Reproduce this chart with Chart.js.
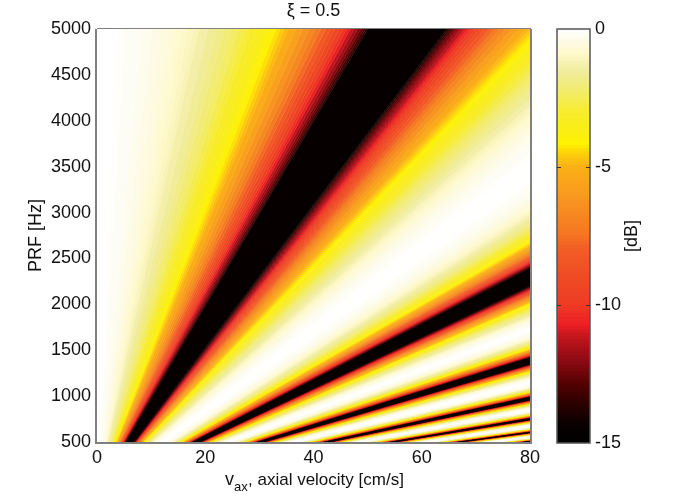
<!DOCTYPE html>
<html>
<head>
<meta charset="utf-8">
<script src="https://cdn.jsdelivr.net/npm/chart.js@4/dist/chart.umd.min.js"></script>
<style>
  html, body { margin: 0; padding: 0; background: #fff; }
  #wrap { position: relative; width: 673px; height: 499px; overflow: hidden; filter: blur(0.4px); }
  canvas { position: absolute; left: 0; top: 0; }
</style>
</head>
<body>
<div id="wrap">
  <canvas id="mapChart" width="673" height="499"></canvas>
  <canvas id="barChart" width="673" height="499"></canvas>
</div>
<script>
const FONT = '"Liberation Sans", Arial, sans-serif';

// axes
const prfTicks = [500, 1000, 1500, 2000, 2500, 3000, 3500, 4000, 4500, 5000];
const velTicks = [0, 20, 40, 60, 80];
const dbTicks = [0, -5, -10, -15];

// the fan of lobes.
// every contour is a straight ray v = slope * (PRF - rayStartPrf) / 1000
const rayStartPrf = -28;
// slope (cm/s per kHz) of the middle of each black null
const nullSlopes = [11.4, 34.4, 56.5, 79.4, 102, 125, 147.5];
// dB contours and how far each sits from the null centre (cm/s per kHz)
const contourLevels = [-0.05, -0.1, -0.25, -0.375, -0.5, -0.625, -0.75, -0.875, -1, -1.125, -1.25, -1.5, -1.75,
  -2, -2.25, -2.5, -2.75, -3, -3.25, -3.5, -3.75, -4, -4.25, -4.5, -4.75, -5, -5.5, -6, -6.5,
  -7, -7.5, -8, -8.5, -9, -9.5, -10, -10.5, -11, -11.5, -12, -12.5, -13, -13.5, -14];
const contourOffsets = [10.71, 10.39, 9.76, 9.36, 9.04, 8.75, 8.49, 8.26, 8.05, 7.85, 7.66, 7.32, 7.0,
  6.72, 6.45, 6.21, 5.98, 5.76, 5.55, 5.36, 5.17, 5.0, 4.83, 4.67, 4.52, 4.37, 4.1, 3.84, 3.61,
  3.39, 3.19, 3.0, 2.82, 2.66, 2.5, 2.35, 2.22, 2.09, 1.95, 1.82, 1.7, 1.6, 1.52, 1.45];

// colormap
const cmapDb = [0, -0.4, -0.88, -1.5, -2.3, -3, -3.8, -4.2, -4.5, -5, -6, -7.46, -8, -9, -10, -10.7, -11.1, -12, -13, -14, -14.5, -15];
const cmapRgb = [
  [255, 255, 255], [253, 251, 232], [255, 249, 204], [240, 236, 160], [242, 236, 106], [247, 236, 46], [251, 239, 16],
  [255, 242, 0], [253, 210, 10], [251, 177, 22], [248, 154, 31], [245, 118, 35], [242, 92, 37], [239, 75, 36],
  [238, 59, 36], [237, 32, 36], [200, 22, 31], [142, 11, 18], [75, 0, 0], [24, 0, 0], [6, 0, 0], [0, 0, 0]
];

function dbColor(db) {
  let i = 0;
  while (i < cmapDb.length - 2 && db < cmapDb[i + 1]) i++;
  const t = Math.min(1, Math.max(0, (cmapDb[i] - db) / (cmapDb[i] - cmapDb[i + 1])));
  const c = cmapRgb[i].map((a, j) => Math.round(a + (cmapRgb[i + 1][j] - a) * t));
  return `rgb(${c[0]},${c[1]},${c[2]})`;
}

// one line per contour, each filled back to the previous one
const rayDatasets = [];
function addRay(slope, bandDb) {
  rayDatasets.push({
    data: [0, 80].map(v => ({ x: v, y: v * 1000 / slope + rayStartPrf })),
    fill: rayDatasets.length ? '-1' : false,
    backgroundColor: dbColor(bandDb),
    borderColor: dbColor(bandDb),
    borderWidth: 0.8,
    pointRadius: 0,
    tension: 0
  });
}
nullSlopes.forEach(centre => {
  contourOffsets.forEach((off, i) => {
    const upper = i ? contourLevels[i - 1] : 0;
    addRay(centre - off, (upper + contourLevels[i]) / 2);
  });
  for (let i = contourOffsets.length - 1; i >= 0; i--) {
    const lower = i < contourLevels.length - 1 ? contourLevels[i + 1] : -15;
    addRay(centre + contourOffsets[i], (lower + contourLevels[i]) / 2);
  }
});

const tickFont = { family: FONT, size: 18 };
const labelColor = '#111';

const mapFrame = {
  id: 'mapFrame',
  afterDraw(chart) {
    const { ctx, chartArea: a } = chart;
    ctx.save();
    ctx.strokeStyle = '#808080';
    ctx.lineWidth = 2;
    ctx.beginPath();
    ctx.moveTo(a.left - 1, a.top);
    ctx.lineTo(a.left - 1, a.bottom + 1);
    ctx.lineTo(a.right + 1, a.bottom + 1);
    ctx.lineTo(a.right + 1, a.top);
    ctx.stroke();
    ctx.lineWidth = 1;
    ctx.beginPath();
    ctx.moveTo(a.left, a.top - 0.5);
    ctx.lineTo(a.right + 1, a.top - 0.5);
    ctx.stroke();

    // x label needs a subscript so it is set in three pieces
    ctx.fillStyle = labelColor;
    ctx.textBaseline = 'alphabetic';
    ctx.textAlign = 'left';
    ctx.font = '18px ' + FONT;
    ctx.fillText('v', 225, 485);
    ctx.font = '13px ' + FONT;
    ctx.fillText('ax', 234, 491);
    ctx.font = '17px ' + FONT;
    ctx.fillText(', axial velocity [cm/s]', 248, 485);
    ctx.restore();
  }
};

new Chart(document.getElementById('mapChart'), {
  type: 'line',
  data: { datasets: rayDatasets },
  options: {
    responsive: false,
    animation: false,
    events: [],
    layout: { padding: { right: 143 } },
    plugins: {
      legend: { display: false },
      tooltip: { enabled: false },
      title: {
        display: true,
        text: 'ξ = 0.5',
        fullSize: false,
        color: labelColor,
        font: { family: FONT, size: 18, weight: 'normal', lineHeight: 1.2 },
        padding: { top: 0, bottom: 7.4 }
      }
    },
    scales: {
      x: {
        type: 'linear',
        min: velTicks[0],
        max: velTicks[velTicks.length - 1],
        afterBuildTicks: s => { s.ticks = velTicks.map(v => ({ value: v })); },
        afterFit: s => { s.height = 57; },
        grid: { display: false, drawTicks: false },
        border: { display: false },
        ticks: { color: labelColor, font: tickFont, padding: 5, maxRotation: 0, autoSkip: false }
      },
      y: {
        type: 'linear',
        min: prfTicks[0],
        max: prfTicks[prfTicks.length - 1],
        afterBuildTicks: s => { s.ticks = prfTicks.map(v => ({ value: v })); },
        afterFit: s => { s.width = 97; },
        grid: { display: false, drawTicks: false },
        border: { display: false },
        ticks: { color: labelColor, font: tickFont, padding: 6, autoSkip: false, callback: v => String(v) },
        title: {
          display: true,
          text: 'PRF [Hz]',
          color: labelColor,
          font: { family: FONT, size: 18 },
          padding: { top: 25, bottom: 0 }
        }
      }
    }
  },
  plugins: [mapFrame]
});

// colorbar: longest bar drawn first so no seams show
const barSteps = [];
for (let i = 0; i < 128; i++) barSteps.push(-15 + (i + 1) * 15 / 128);

const barFrame = {
  id: 'barFrame',
  afterDraw(chart) {
    const { ctx, chartArea: a, scales } = chart;
    ctx.save();
    ctx.strokeStyle = '#555';
    ctx.lineWidth = 1.5;
    ctx.strokeRect(a.left, a.top, a.right - a.left, a.bottom - a.top);
    ctx.lineWidth = 1;
    ctx.strokeStyle = '#333';
    [-5, -10].forEach(db => {
      const y = Math.round(scales.y.getPixelForValue(db)) + 0.5;
      ctx.beginPath();
      ctx.moveTo(a.left, y);
      ctx.lineTo(a.left + 4, y);
      ctx.moveTo(a.right - 4, y);
      ctx.lineTo(a.right, y);
      ctx.stroke();
    });
    ctx.translate(632, 236);
    ctx.rotate(-Math.PI / 2);
    ctx.fillStyle = labelColor;
    ctx.font = '18px ' + FONT;
    ctx.textAlign = 'center';
    ctx.textBaseline = 'middle';
    ctx.fillText('[dB]', 0, 0);
    ctx.restore();
  }
};

new Chart(document.getElementById('barChart'), {
  type: 'bar',
  data: {
    labels: [''],
    datasets: barSteps.map(top => ({
      data: [[-15, top]],
      backgroundColor: dbColor(top - 15 / 256),
      borderWidth: 0,
      barPercentage: 1,
      categoryPercentage: 1,
      grouped: false
    }))
  },
  options: {
    responsive: false,
    animation: false,
    events: [],
    layout: { padding: { left: 557, top: 29, bottom: 56 } },
    plugins: { legend: { display: false }, tooltip: { enabled: false } },
    scales: {
      x: { display: false },
      y: {
        position: 'right',
        min: -15,
        max: 0,
        afterBuildTicks: s => { s.ticks = dbTicks.map(v => ({ value: v })); },
        afterFit: s => { s.width = 83; },
        grid: { display: false, drawTicks: false },
        border: { display: false },
        ticks: { color: labelColor, font: tickFont, padding: 5, autoSkip: false, callback: v => String(v) }
      }
    }
  },
  plugins: [barFrame]
});
</script>
</body>
</html>
